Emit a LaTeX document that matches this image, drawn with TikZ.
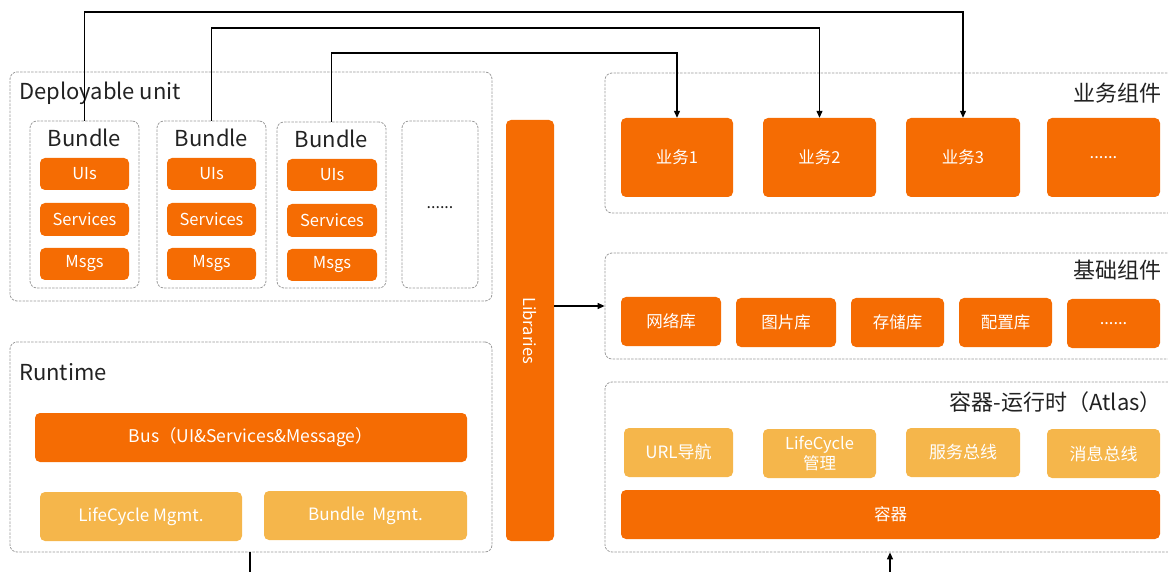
\documentclass[tikz,border=0pt]{standalone}
\usepackage{fontspec}
\setmainfont{Noto Sans CJK SC}
\usetikzlibrary{arrows.meta}
\definecolor{org}{HTML}{F56C03}
\definecolor{lorg}{HTML}{F5B64B}
\definecolor{dgray}{HTML}{9A9A9A}
\definecolor{txt}{HTML}{222222}
\begin{document}
\begin{tikzpicture}[x=1pt,y=-1pt,
  R/.style n args={4}{at={({(#1+#3)/2},{(#2+#4)/2})}, anchor=center, minimum width={(#3-#1)*1pt}, minimum height={(#4-#2)*1pt}},
  grp/.style={draw=dgray, dash pattern=on 2.5pt off 1.2pt, rounded corners=7pt, inner sep=0pt, line width=0.8pt},
  obox/.style={fill=org, text=white, rounded corners=5pt, inner sep=0pt, font=\fontsize{16.5}{18}\selectfont},
  lbox/.style={fill=lorg, text=white, rounded corners=5pt, inner sep=0pt, font=\fontsize{17}{18}\selectfont},
  ttl/.style={font=\fontsize{22}{26}\selectfont, text=txt, inner sep=0pt},
  conn/.style={draw=black, line width=1.2pt},
  arr/.style={conn, -{Triangle[length=7pt,width=6pt]}}
]
\useasboundingbox (0,0) rectangle (1168,572);

% Deployable unit
\node[grp, R={10}{72}{492}{301}] (du) {};
\node[ttl, anchor=west] (dut) at (19,93) {Deployable unit};
\node[grp, R={30}{121}{139}{288}] (b1) {};
\node[grp, R={157}{121}{266}{288}] (b2) {};
\node[grp, R={277}{122}{386}{288}] (b3) {};
\node[grp, R={402}{121}{478}{288}] (b4) {};
\node[ttl] (b1t) at (b1.center |- 0,138) {Bundle};
\node[ttl] (b2t) at (b2.center |- 0,138) {Bundle};
\node[ttl] (b3t) at (b3.center |- 0,139) {Bundle};
\node[font=\fontsize{16}{18}\selectfont, text=txt] (b4t) at (440,208) {......};

\node[obox, R={40}{158}{129}{190}] (u1) {UIs};
\node[obox, R={40}{203}{129}{236}] (s1) {Services};
\node[obox, R={40}{248}{129}{280}] (m1) {Msgs};
\node[obox, R={167}{158}{256}{190}] (u2) {UIs};
\node[obox, R={167}{203}{256}{236}] (s2) {Services};
\node[obox, R={167}{248}{256}{280}] (m2) {Msgs};
\node[obox, R={287}{159}{377}{191}] (u3) {UIs};
\node[obox, R={287}{204}{377}{237}] (s3) {Services};
\node[obox, R={287}{249}{377}{281}] (m3) {Msgs};

% Runtime
\node[grp, R={10}{342}{492}{552}] (rt) {};
\node[ttl, anchor=west] (rtt) at (19,372) {Runtime};
\node[obox, R={35}{413}{467}{462}, font=\fontsize{17.5}{19}\selectfont] (bus) {Bus（UI\&Services\&Message）};
\node[lbox, R={40}{492}{242}{541}] (lc) {LifeCycle Mgmt.};
\node[lbox, R={264}{491}{467}{540}] (bm) {Bundle\ \ Mgmt.};

% Libraries
\node[obox, R={506}{120}{554}{541}] (lib) {};
\node[rotate=-90, text=white, font=\fontsize{16.5}{18}\selectfont, inner sep=0pt] (libt) at (lib.center) {Libraries};

% 业务组件
\node[grp, R={605}{73}{1178}{213}] (bz) {};
\node[ttl, anchor=east] (bzt) at (1162,93) {业务组件};
\node[obox, R={621}{118}{733}{197}] (y1) {业务1};
\node[obox, R={763}{118}{876}{197}] (y2) {业务2};
\node[obox, R={906}{118}{1020}{197}] (y3) {业务3};
\node[obox, R={1047}{118}{1160}{197}] (y4) {......};

% 基础组件
\node[grp, R={605}{253}{1178}{359}] (jc) {};
\node[ttl, anchor=east] (jct) at (1162,270) {基础组件};
\node[obox, R={621}{297}{721}{346}] (j1) {网络库};
\node[obox, R={736}{298}{836}{347}] (j2) {图片库};
\node[obox, R={851}{298}{944}{347}] (j3) {存储库};
\node[obox, R={959}{298}{1052}{347}] (j4) {配置库};
\node[obox, R={1067}{299}{1160}{348}] (j5) {......};

% 容器-运行时
\node[grp, R={605}{382}{1175}{552}] (rq) {};
\node[ttl, anchor=east] (rqt) at (1162,402) {容器-运行时（Atlas）};
\node[lbox, R={624}{428}{733}{477}] (q1) {URL导航};
\node[lbox, R={763}{429}{876}{478}, font=\fontsize{16.5}{20}\selectfont, align=center] (q2) {LifeCycle\\管理};
\node[lbox, R={906}{428}{1020}{477}] (q3) {服务总线};
\node[lbox, R={1047}{429}{1160}{478}] (q4) {消息总线};
\node[obox, R={621}{490}{1160}{539}] (rqc) {容器};

% connectors
\coordinate (t1) at (b1.north |- 0,12);
\coordinate (t2) at (b2.north |- 0,28);
\coordinate (t3) at (b3.north |- 0,53);
\draw[arr] (b1.north) -- (t1) -| (y3.north);
\draw[arr] (b2.north) -- (t2) -| (y2.north);
\draw[arr] (b3.north) -- (t3) -| (y1.north);
\draw[arr] (lib.east |- jc.west) -- (jc.west);
\coordinate (rb) at (250,572);
\draw[conn] (rt.south -| rb) -- (rb);
\coordinate (qb) at (890,572);
\draw[arr] (qb) -- (rq.south -| qb);
\end{tikzpicture}
\end{document}
